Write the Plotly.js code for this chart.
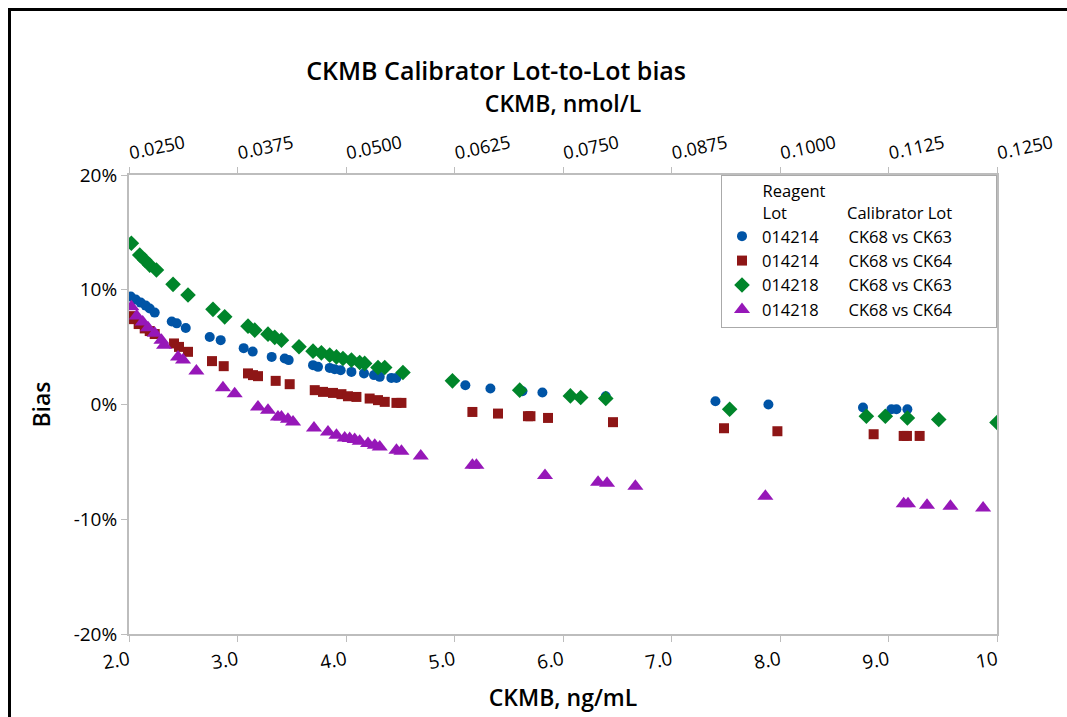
<!DOCTYPE html>
<html>
<head>
<meta charset="utf-8">
<script src="https://cdn.plot.ly/plotly-3.0.1.min.js"></script>
<style>
  html, body { margin: 0; padding: 0; background: #fff; }
  #wrap { position: relative; width: 1067px; height: 717px; overflow: hidden; }
  #chart { width: 1067px; height: 717px; }
  #frame { position: absolute; left: 8px; top: 8px; width: 1100px; height: 760px;
           border-left: 3px solid #000; border-top: 3px solid #000; pointer-events: none; }
</style>
</head>
<body>
<div id="wrap"><div id="chart"></div><div id="frame"></div></div>
<script>
// ---- Data (CKMB ng/mL vs Bias %) ----
const blueX = [2.016,2.062,2.108,2.154,2.191,2.237,2.394,2.440,2.523,2.744,2.845,3.057,3.140,3.315,3.435,3.472,3.696,3.742,3.850,3.896,3.951,4.050,4.166,4.258,4.311,4.418,4.465,5.100,5.331,5.626,5.810,6.394,7.405,7.893,8.765,9.027,9.073,9.174];
const blueY = [9.41,9.14,8.88,8.62,8.36,8.01,7.23,7.07,6.66,5.88,5.61,4.91,4.61,4.15,4.01,3.87,3.43,3.28,3.19,3.08,2.99,2.84,2.71,2.56,2.41,2.32,2.32,1.68,1.40,1.16,1.05,0.72,0.29,0.00,-0.26,-0.41,-0.41,-0.41];

const redX = [2.016,2.043,2.089,2.145,2.191,2.237,2.415,2.461,2.544,2.765,2.873,3.097,3.143,3.189,3.352,3.481,3.712,3.788,3.880,3.958,4.018,4.096,4.218,4.295,4.357,4.465,4.511,5.165,5.401,5.677,5.700,5.862,6.461,7.484,7.976,8.863,9.140,9.170,9.287];
const redY = [7.70,7.44,7.01,6.63,6.40,6.14,5.32,5.02,4.59,3.78,3.34,2.71,2.56,2.47,2.06,1.77,1.25,1.10,1.01,0.90,0.72,0.66,0.52,0.38,0.23,0.14,0.14,-0.65,-0.79,-1.02,-1.02,-1.17,-1.54,-2.07,-2.33,-2.59,-2.74,-2.74,-2.74];

const greenX = [2.022,2.099,2.145,2.191,2.253,2.406,2.544,2.774,2.882,3.097,3.159,3.281,3.343,3.405,3.567,3.696,3.773,3.850,3.912,3.972,4.050,4.126,4.172,4.295,4.357,4.525,4.981,5.601,6.068,6.163,6.394,7.536,8.796,8.971,9.174,9.463,10.0];
const greenY = [14.05,13.03,12.59,12.15,11.72,10.47,9.54,8.29,7.64,6.83,6.48,6.13,5.85,5.61,5.03,4.65,4.50,4.30,4.15,4.01,3.87,3.66,3.58,3.23,3.23,2.79,2.06,1.25,0.75,0.61,0.52,-0.41,-1.02,-1.02,-1.17,-1.31,-1.57];

const purpleX = [2.022,2.071,2.126,2.175,2.237,2.299,2.323,2.452,2.498,2.621,2.866,2.974,3.189,3.281,3.373,3.405,3.465,3.512,3.705,3.834,3.912,3.988,4.034,4.080,4.126,4.203,4.265,4.311,4.465,4.511,4.689,5.165,5.202,5.834,6.323,6.406,6.667,7.865,9.140,9.180,9.355,9.571,9.872];
const purpleY = [8.52,7.71,7.18,6.68,6.20,5.61,5.17,4.13,3.87,2.91,1.47,0.94,-0.21,-0.50,-1.08,-1.08,-1.28,-1.52,-2.04,-2.39,-2.68,-2.91,-2.97,-3.05,-3.20,-3.40,-3.55,-3.70,-3.99,-4.07,-4.49,-5.30,-5.30,-6.19,-6.77,-6.86,-7.13,-8.00,-8.64,-8.64,-8.79,-8.87,-9.02];

const reagentLots = ['014214','014214','014218','014218'];
const calibratorLots = ['CK68 vs CK63','CK68 vs CK64','CK68 vs CK63','CK68 vs CK64'];

const ngTickVals = [2,3,4,5,6,7,8,9,10];
const ngTickText = ['2.0','3.0','4.0','5.0','6.0','7.0','8.0','9.0','10'];
const nmolTickVals = [0.025,0.0375,0.05,0.0625,0.075,0.0875,0.1,0.1125,0.125];
const nmolTickText = ['0.0250','0.0375','0.0500','0.0625','0.0750','0.0875','0.1000','0.1125','0.1250'];
const biasTickVals = [-20,-10,0,10,20];
const biasTickText = ['-20%','-10%','0%','10%','20%'];

const FONT = 'Open Sans, Noto Sans, sans-serif';
const NB = '\u00A0';
function pad(n){ return NB.repeat(n); }
function legendName(i){ return reagentLots[i] + pad(7) + calibratorLots[i] + pad(9); }

const colors = ['#0054A6','#8E1616','#00852A','#9617B8'];
const symbols = ['circle','square','diamond','triangle-up'];
const sizes = [10,10,12,14];
const xs = [blueX, redX, greenX, purpleX];
const ys = [blueY, redY, greenY, purpleY];

const traces = xs.map((x,i) => ({
  type: 'scatter', mode: 'markers', x: x, y: ys[i],
  name: legendName(i),
  marker: { color: colors[i], symbol: symbols[i], size: sizes[i], line: {width: 0} },
  xaxis: 'x', yaxis: 'y'
}));
// secondary (top) axis in nmol/L
traces.push({
  type: 'scatter', mode: 'markers', x: nmolTickVals, y: nmolTickVals.map(() => null),
  xaxis: 'x2', yaxis: 'y', showlegend: false, hoverinfo: 'skip', marker: {opacity: 0}
});

const axisLine = '#BDBDBD';
const layout = {
  width: 1067, height: 717,
  margin: { l: 129, r: 70, t: 175, b: 83 },
  paper_bgcolor: '#fff', plot_bgcolor: '#fff',
  font: { family: FONT, color: '#000' },
  showlegend: true,
  title: {
    text: 'CKMB Calibrator Lot-to-Lot bias',
    font: { family: FONT, size: 25, weight: 600, color: '#000' },
    x: 0.465, xanchor: 'center', xref: 'container',
    y: 1 - 71/717, yanchor: 'middle', yref: 'container'
  },
  xaxis: {
    range: [2, 10], tickvals: ngTickVals, ticktext: ngTickText,
    tickangle: -10, tickfont: { size: 19, family: FONT },
    showgrid: false, zeroline: false,
    showline: true, linecolor: axisLine, linewidth: 2,
    ticks: 'outside', ticklen: 6, tickcolor: axisLine, tickwidth: 1,
    title: { text: 'CKMB, ng/mL', font: { size: 23, weight: 600, family: FONT }, standoff: 16 }
  },
  xaxis2: {
    overlaying: 'x', side: 'top', anchor: 'y',
    range: [0.025, 0.125], tickvals: nmolTickVals, ticktext: nmolTickText,
    tickangle: -12, tickfont: { size: 18, family: FONT },
    showgrid: false, zeroline: false,
    showline: true, linecolor: axisLine, linewidth: 2,
    ticks: 'outside', ticklen: 6, tickcolor: axisLine, tickwidth: 1,
    title: { text: 'CKMB, nmol/L', font: { size: 23, weight: 600, family: FONT }, standoff: 10 }
  },
  yaxis: {
    range: [-20, 20], tickvals: biasTickVals, ticktext: biasTickText,
    tickfont: { size: 19, family: FONT },
    showgrid: false, zeroline: false,
    showline: true, mirror: true, linecolor: axisLine, linewidth: 2,
    ticks: 'outside', ticklen: 6, tickcolor: axisLine, tickwidth: 1,
    title: { text: 'Bias', font: { size: 23, weight: 600, family: FONT }, standoff: 17 }
  },
  legend: {
    x: (721-129)/868, xanchor: 'left', y: 1, yanchor: 'top',
    bgcolor: '#fff', bordercolor: '#AAAAAA', borderwidth: 1,
    font: { size: 16.5, family: FONT, color: '#000' },
    tracegroupgap: 0, itemsizing: 'trace',
    title: { text: pad(9) + 'Reagent<br>' + pad(9) + 'Lot' + pad(14) + 'Calibrator Lot', side: 'top',
             font: { size: 16.5, family: FONT, color: '#000' } }
  }
};

Plotly.newPlot('chart', traces, layout, { displayModeBar: false, staticPlot: true });
</script>
</body>
</html>
